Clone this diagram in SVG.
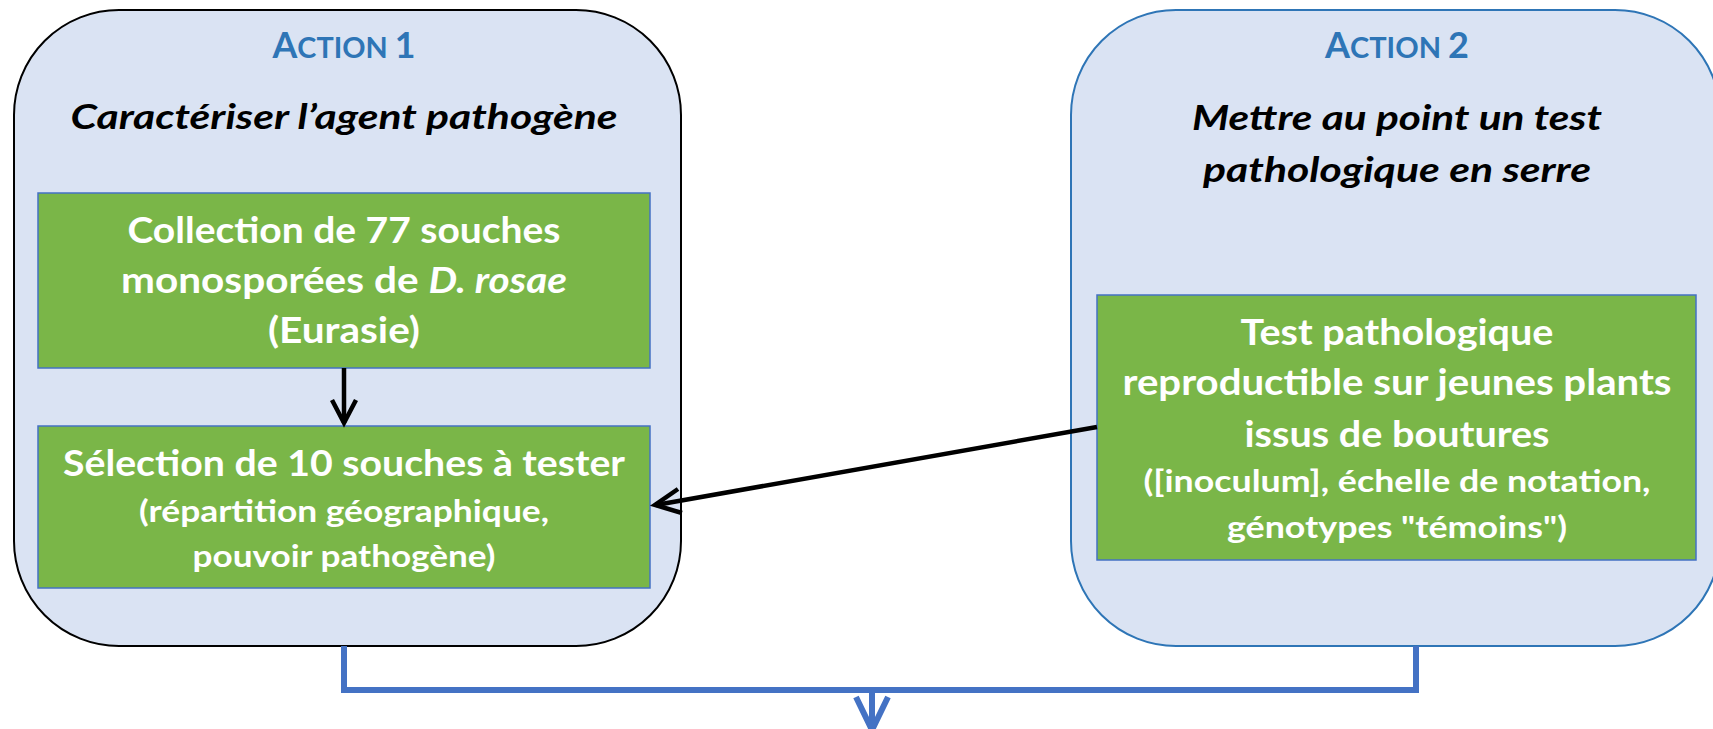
<svg xmlns="http://www.w3.org/2000/svg" width="1713" height="729" viewBox="0 0 1713 729">
<style>
.cont{fill:#DAE3F3;}
.box{fill:#7AB648;stroke:#4472C4;stroke-width:1.5;}
.act{font-family:Lato,"Open Sans",sans-serif;font-weight:bold;fill:#2E75B6;text-anchor:middle;}
.ttl{font-family:Lato,"Open Sans",sans-serif;font-weight:bold;font-style:italic;fill:#000;text-anchor:middle;font-size:34px;}
.wt{font-family:Lato,"Open Sans",sans-serif;font-weight:bold;fill:#fff;text-anchor:middle;}
.big{font-size:37px;}
.sm{font-size:31px;}
.blk{fill:none;stroke:#000;stroke-width:4.5;}
.blu{fill:none;stroke:#4472C4;stroke-width:6;}
</style>
<g id="action1">
<rect class="cont" x="14" y="10" width="667" height="636" rx="105" ry="105" stroke="#000" stroke-width="2"/>
<text class="act" x="344" y="58" textLength="143" lengthAdjust="spacingAndGlyphs"><tspan font-size="36">A</tspan><tspan font-size="29">CTION </tspan><tspan font-size="36">1</tspan></text>
<text class="ttl" x="344" y="129" textLength="547" lengthAdjust="spacingAndGlyphs">Caractériser l’agent pathogène</text>
</g>
<g id="collection">
<rect class="box" x="38" y="193" width="612" height="175"/>
<text class="wt big" x="344" y="243" textLength="433" lengthAdjust="spacingAndGlyphs">Collection de 77 souches</text>
<text class="wt big" x="344" y="293" textLength="446" lengthAdjust="spacingAndGlyphs">monosporées de <tspan font-style="italic">D. rosae</tspan></text>
<text class="wt big" x="344" y="343" textLength="152" lengthAdjust="spacingAndGlyphs">(Eurasie)</text>
</g>
<g id="selection">
<rect class="box" x="38" y="426" width="612" height="162"/>
<text class="wt big" x="344" y="476" textLength="562" lengthAdjust="spacingAndGlyphs">Sélection de 10 souches à tester</text>
<text class="wt sm" x="344" y="522" textLength="410" lengthAdjust="spacingAndGlyphs">(répartition géographique,</text>
<text class="wt sm" x="344" y="567" textLength="303" lengthAdjust="spacingAndGlyphs">pouvoir pathogène)</text>
</g>
<g id="action2">
<rect class="cont" x="1071" y="10" width="649" height="636" rx="105" ry="105" stroke="#2E75B6" stroke-width="2"/>
<text class="act" x="1397" y="58" textLength="144" lengthAdjust="spacingAndGlyphs"><tspan font-size="36">A</tspan><tspan font-size="29">CTION </tspan><tspan font-size="36">2</tspan></text>
<text class="ttl" x="1397" y="130" textLength="410" lengthAdjust="spacingAndGlyphs">Mettre au point un test</text>
<text class="ttl" x="1397" y="182" textLength="388" lengthAdjust="spacingAndGlyphs">pathologique en serre</text>
</g>
<g id="test">
<rect class="box" x="1097" y="295" width="599" height="265"/>
<text class="wt big" x="1397" y="345" textLength="313" lengthAdjust="spacingAndGlyphs">Test pathologique</text>
<text class="wt big" x="1397" y="395" textLength="549" lengthAdjust="spacingAndGlyphs">reproductible sur jeunes plants</text>
<text class="wt big" x="1397" y="447" textLength="305" lengthAdjust="spacingAndGlyphs">issus de boutures</text>
<text class="wt sm" x="1397" y="492" textLength="507" lengthAdjust="spacingAndGlyphs">([inoculum], échelle de notation,</text>
<text class="wt sm" x="1397" y="538" textLength="340" lengthAdjust="spacingAndGlyphs">génotypes "témoins")</text>
</g>
<g id="connectors">
<line class="blk" x1="344" y1="368" x2="344" y2="423"/>
<polyline class="blk" points="332,400 344,423 356,400"/>
<line class="blk" x1="1097" y1="427" x2="656" y2="505"/>
<polyline class="blk" points="678,489 655,505 682,513"/>
<polyline class="blu" points="344,646 344,690 1416,690 1416,646"/>
<line class="blu" x1="872" y1="690" x2="872" y2="729" stroke-width="4"/>
<polyline class="blu" points="856,697 872,730 888,697" stroke-width="4.5"/>
</g>
</svg>
